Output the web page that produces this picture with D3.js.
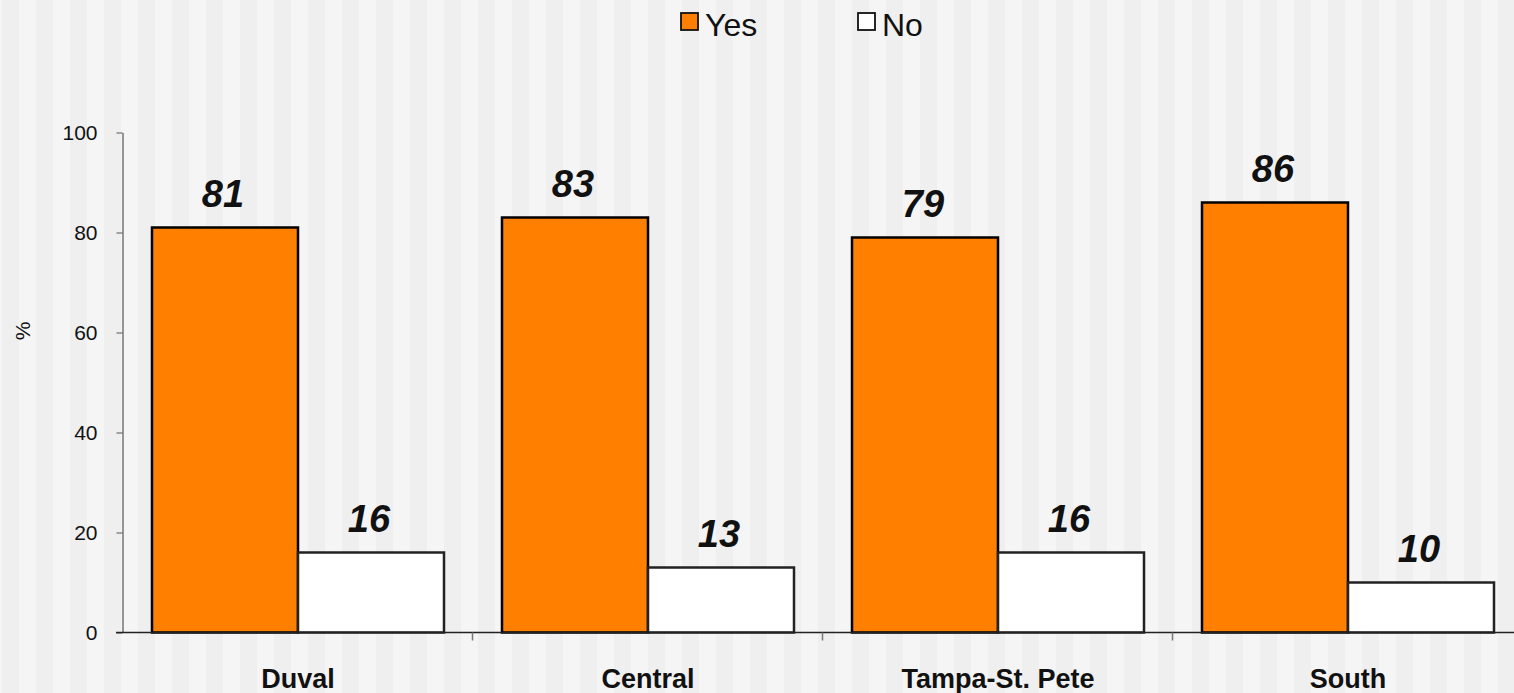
<!DOCTYPE html>
<html>
<head>
<meta charset="utf-8">
<script src="https://cdn.jsdelivr.net/npm/d3@7"></script>
<style>
  body { margin: 0; background: #f5f5f5; }
  svg { display: block; font-family: Arial, "Liberation Sans", sans-serif; }
</style>
</head>
<body>
<svg id="chart" width="1514" height="693"></svg>
<script>
// data
let regions = ['Duval', 'Central', 'Tampa-St. Pete', 'South'];
let seriesNames = ['Yes', 'No'];
let yesValues = [81, 83, 79, 86];
let noValues = [16, 13, 16, 10];
let yTicks = [0, 20, 40, 60, 80, 100];

let colors = {Yes: '#ff7f00', No: '#ffffff'};
let strokes = {Yes: '#000', No: '#222'};

let svg = d3.select('#chart');
let W = 1514, H = 693;

// striped background
svg.selectAll('rect.stripe')
	.data(d3.range(-1, 46))
	.join('rect')
	.attr('x', i => 2 + i * 34)
	.attr('y', 0)
	.attr('width', 17)
	.attr('height', H)
	.attr('fill', '#efefef');

let x = d3.scaleBand()
	.domain(regions)
	.range([122, 1522]);

let xInner = d3.scaleBand()
	.domain(seriesNames)
	.range([30, 322]);

let y = d3.scaleLinear()
	.domain([0, 100])
	.range([632.5, 132.5]);

let rows = regions.map((r, i) => ({region: r, Yes: yesValues[i], No: noValues[i]}));

// y axis
let yAxis = svg.append('g')
	.attr('transform', 'translate(122.5,0)')
	.call(d3.axisLeft(y).tickValues(yTicks).tickSize(6).tickSizeOuter(0).tickPadding(19));
yAxis.select('.domain').attr('stroke', '#555').attr('stroke-width', 1.2);
yAxis.selectAll('.tick line').attr('stroke', '#555');
yAxis.selectAll('.tick text')
	.attr('font-size', 21)
	.attr('fill', '#111')
	.attr('font-family', 'Arial, "Liberation Sans", sans-serif');

// y title
svg.append('text')
	.attr('transform', 'translate(30,331) rotate(-90)')
	.attr('text-anchor', 'middle')
	.attr('font-size', 21)
	.attr('fill', '#111')
	.text('%');

// bars
let groups = svg.selectAll('g.region')
	.data(rows)
	.join('g')
	.attr('transform', d => `translate(${x(d.region)},0)`);

groups.selectAll('rect')
	.data(d => seriesNames.map(s => ({s, v: d[s]})))
	.join('rect')
	.attr('x', d => xInner(d.s))
	.attr('y', d => y(d.v))
	.attr('width', xInner.bandwidth())
	.attr('height', d => y(0) - y(d.v))
	.attr('fill', d => colors[d.s])
	.attr('stroke', d => strokes[d.s])
	.attr('stroke-width', 2.5);

groups.selectAll('text.val')
	.data(d => seriesNames.map(s => ({s, v: d[s]})))
	.join('text')
	.attr('class', 'val')
	.attr('x', d => xInner(d.s) + xInner.bandwidth() / 2 - 2)
	.attr('y', d => y(d.v) - 21)
	.attr('text-anchor', 'middle')
	.attr('font-size', 38)
	.attr('font-weight', 'bold')
	.attr('font-style', 'italic')
	.attr('fill', '#111')
	.text(d => d.v);

// x axis
let xAxis = svg.append('g')
	.attr('transform', 'translate(0,632.5)');
xAxis.append('line')
	.attr('x1', 116).attr('x2', W)
	.attr('stroke', '#222').attr('stroke-width', 1.5);
xAxis.selectAll('line.tick')
	.data(regions.slice(1))
	.join('line')
	.attr('class', 'tick')
	.attr('x1', d => x(d) + 0.5).attr('x2', d => x(d) + 0.5)
	.attr('y1', 0).attr('y2', 8)
	.attr('stroke', '#777').attr('stroke-width', 1.5);
xAxis.selectAll('text')
	.data(regions)
	.join('text')
	.attr('x', d => x(d) + 176)
	.attr('y', 55)
	.attr('text-anchor', 'middle')
	.attr('font-size', 27)
	.attr('font-weight', 'bold')
	.attr('fill', '#111')
	.text(d => d);

// legend
let legendX = {Yes: 681, No: 858};
let legend = svg.selectAll('g.legend')
	.data(seriesNames)
	.join('g')
	.attr('transform', d => `translate(${legendX[d]},13)`);
legend.append('rect')
	.attr('width', 17).attr('height', 17)
	.attr('fill', d => colors[d])
	.attr('stroke', '#111').attr('stroke-width', 1.8);
legend.append('text')
	.attr('x', 24)
	.attr('y', 23)
	.attr('font-size', 32)
	.attr('fill', '#111')
	.text(d => d);
</script>
</body>
</html>
